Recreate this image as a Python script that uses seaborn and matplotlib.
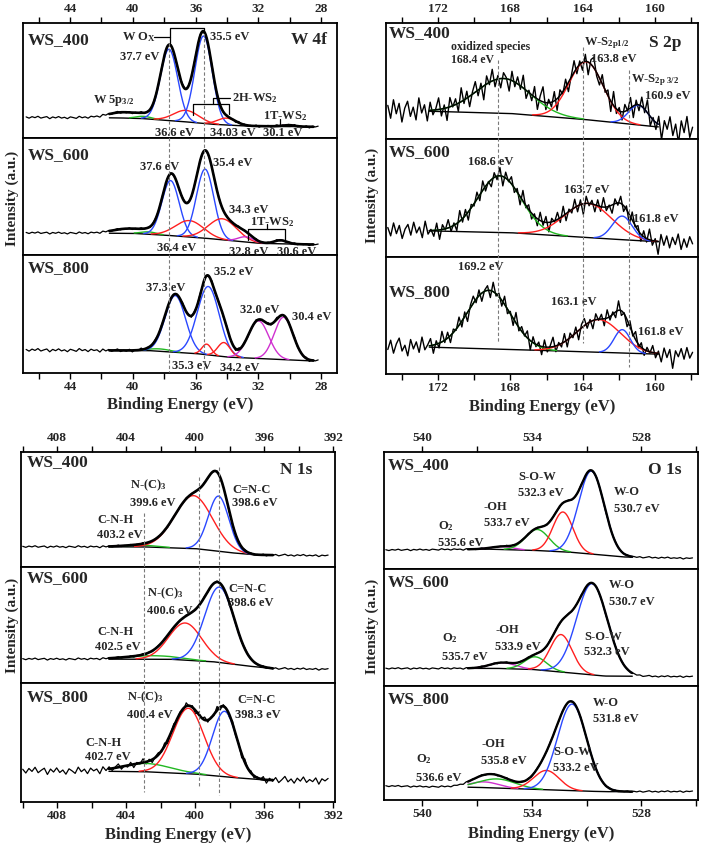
import numpy as np
import pandas as pd
import matplotlib
matplotlib.use("Agg")
import matplotlib.pyplot as plt
import matplotlib.transforms as mtrans
from matplotlib.lines import Line2D
import seaborn as sns

# ---------------------------------------------------------------- data
SAMPLES = ["WS_400", "WS_600", "WS_800"]

# ---- W 4f  (intensity in % of sub-panel height)
W4F_CENTERS = [[40.6, 39.3, 37.7, 36.6, 35.5, 34.03, 30.1],
               [40.3, 39.0, 37.6, 36.4, 35.4, 34.3, 32.8, 30.6],
               [38.3, 37.3, 35.3, 35.2, 34.2, 32.0, 30.4]]
W4F_AMPS = [[5, 2, 62, 10, 76, 6, 1.2],
            [4, 2, 47, 14, 59, 18, 4.5, 3],
            [2, 48, 9, 58, 12, 32, 36]]
W4F_SIGMAS = [[1.0, 0.5, 0.55, 0.8, 0.55, 0.6, 0.4],
              [1.0, 0.5, 0.55, 0.9, 0.55, 0.9, 0.5, 0.4],
              [0.7, 0.65, 0.3, 0.7, 0.4, 0.65, 0.6]]
W4F_COLORS = [["none", "green", "blue", "red", "blue", "red", "magenta"],
              ["none", "green", "blue", "red", "blue", "red", "magenta", "magenta"],
              ["green", "blue", "red", "blue", "red", "magenta", "magenta"]]
W4F_BASE_X = [[47, 41, 39.5, 37, 35, 33, 27], [47, 40, 38, 35.5, 32, 27], [47, 39, 36, 34, 29, 27]]
W4F_BASE_Y = [[18, 17.5, 17, 14.5, 12, 10.5, 9.5], [19, 18.5, 17, 14.5, 10, 8.5], [19.5, 19, 16.5, 13.5, 10.4, 10]]
W4F_DASH_X = [37.7, 35.5]

# ---- S 2p
S2P_CENTERS = [[168.4, 163.8, 160.9], [168.6, 163.7, 161.8], [169.2, 163.1, 161.8]]
S2P_AMPS = [[30, 50, 17], [48, 29, 20], [50, 28, 20]]
S2P_SIGMAS = [[1.5, 0.95, 0.55], [1.2, 1.3, 0.55], [1.2, 1.2, 0.45]]
S2P_COLORS = [["green", "red", "blue"]] * 3
S2P_BASE_X = [[174.9, 168, 164, 160, 157.6], [174.9, 168, 164, 160, 157.6], [174.9, 168, 164, 160, 157.6]]
S2P_BASE_Y = [[25, 22, 17, 10.6, 9], [23, 20.6, 16.7, 13, 12], [24, 21, 19, 17, 16.5]]
S2P_DASH_X = [168.7, 164.0, 161.4]

# ---- N 1s
N1S_CENTERS = [[403.2, 400.1, 398.65], [402.5, 400.58, 398.6], [402.8, 400.4, 398.3]]
N1S_AMPS = [[1.5, 46, 48], [3, 32, 65], [7, 55, 55]]
N1S_SIGMAS = [[1.0, 1.1, 0.6], [1.5, 0.95, 0.85], [1.4, 0.9, 0.7]]
N1S_COLORS = [["green", "red", "blue"]] * 3
N1S_BASE_X = [[410.1, 403, 400, 398, 396.5, 391.9], [410.1, 401.5, 399, 397, 395.5, 391.9],
              [410.1, 403, 400, 398, 396, 391.9]]
N1S_BASE_Y = [[17.7, 17.5, 16, 12.5, 10.5, 9.8], [20.7, 20.5, 18.4, 14.7, 12.5, 11.8],
              [26.5, 25.5, 23.5, 20.8, 18.5, 18]]
N1S_DASH_X = [402.96, 399.8, 398.6]

# ---- O 1s
O1S_CENTERS = [[535.6, 533.7, 532.3, 530.74], [535.6, 533.8, 532.4, 530.7], [536.6, 535.9, 533.2, 531.8]]
O1S_AMPS = [[2.5, 18, 34, 71], [5, 11, 32, 78], [5, 8, 17, 76]]
O1S_SIGMAS = [[0.6, 0.65, 0.55, 0.7], [0.7, 0.6, 0.6, 0.85], [0.8, 1.0, 0.7, 0.8]]
O1S_COLORS = [["magenta", "green", "red", "blue"]] * 3
O1S_BASE_X = [[542.1, 536.5, 534, 532, 530, 529, 524.9], [542.1, 536, 534, 532, 530, 524.9],
              [542.1, 537, 534, 532, 530, 524.9]]
O1S_BASE_Y = [[16.2, 17, 16, 14.5, 11.7, 10.3, 9], [15, 15.1, 14.2, 11.4, 8.5, 8],
              [12.3, 11.1, 9.4, 8.2, 7.3, 7.5]]

# ---- measurement scatter around the fits (read roughly, % of panel height)
SMALL_NOISE = [0.3, -0.6, 0.5, -0.2, 0.8, -0.5, 0.1, 0.6, -0.9, 0.4, -0.3, 0.7, -0.4, 0.2, -0.8, 0.5, 0.0,
               -0.6, 0.9, -0.2, 0.4, -0.7, 0.6, -0.1, 0.3, -0.9, 0.7, -0.3, 0.5, -0.5, 0.2, 0.8, -0.6, 0.1,
               -0.4, 0.6, -0.8, 0.3, -0.2, 0.9, -0.5, 0.4, -0.7, 0.2, 0.5, -0.3, 0.7, -0.9, 0.1, 0.6, -0.4,
               0.3, -0.6, 0.8, -0.2, 0.4, -0.8, 0.5, -0.1, 0.7, -0.5, 0.2, -0.3, 0.9, -0.7, 0.4, 0.1, -0.6,
               0.6, -0.4, 0.3, -0.9, 0.8, -0.2, 0.5, -0.5, 0.2, -0.1, 0.7, -0.8, 0.4, -0.3, 0.6, -0.6, 0.1,
               0.9, -0.4, 0.3, -0.7, 0.5, -0.2, 0.8, -0.5, 0.2, -0.3, 0.6, -0.9, 0.4, -0.1, 0.5]
W4F_NOISE_SCALE = [1.2, 1.0, 1.6]
N1S_NOISE_SCALE = [1.0, 1.0, 3.5]
O1S_NOISE_SCALE = [0.8, 0.8, 0.8]

S2P_NOISE_400 = [4, -7, 9, -3, 6, -10, 2, 8, -5, 3, -8, 11, -2, 5, -9, 7, -4, 1, 10, -6, 3, -11, 8, -1, 5, -7,
                 12, -3, 6, -9, 2, 9, -5, 4, -12, 7, -2, 10, -6, 3, -8, 5, 1, -10, 8, -4, 6, -3, 11, -7, 2, -5,
                 9, -9, 4, 13, -6, 3, -4, 8, -10, 5, -2, 7, -8, 1, 10, -5, 3, -7, 6, -11, 4, 9, -3, -6, 8, -2,
                 5, -9, 12, -4, 3, -7, 6, -1, 9, -10, 4, -5, 8, -3, 11, -8, 2, -6, 7, -12, 5, -2, 9, -7, 3,
                 -13, 6, -4, 10, -8, 1]
S2P_NOISE_600 = [2, -5, 6, -3, 4, -7, 1, 5, -4, 7, -2, 3, -6, 8, -3, 1, -5, 6, -8, 4, -1, 7, -4, 2, -6, 9, -3,
                 5, -7, 3, -2, 6, -5, 8, -4, 1, -6, 4, -3, 7, -8, 5, -1, 6, -4, 3, -7, 9, -2, 4, -5, 2, -6, 7,
                 -3, 5, -8, 3, -1, 6, -4, 8, -6, 2, -3, 7, -5, 4, -9, 6, -2, 3, -6, 5, -4, 8, -3, 1, -7, 4, -2,
                 6, -5, 3, -8, 7, -1, 4, -6, 5, -3, 9, -4, 2, -11, 6, -3, 5, -5, 4, -2, 7, -6, 3, -4, 5, -1]
S2P_NOISE_800 = [-3, 5, -6, 2, 7, -4, 1, -8, 6, -2, 4, -5, 8, -3, 1, 6, -7, 3, -4, 9, -2, 5, -6, 3, -1, 7, -5,
                 4, -8, 2, 6, -3, 5, -7, 1, 4, -6, 8, -2, 3, -5, 7, -4, 2, -6, 9, -3, 4, -1, 6, -8, 5, -2, 3,
                 -7, 6, -4, 1, 8, -5, 2, -3, 7, -6, 4, -2, 5, -8, 3, 6, -4, 2, -7, 5, -1, 4, -6, 7, -3, 2, -5,
                 8, -4, 1, -6, 5, -2, 7, -3, 4, -5, 3, -1, 6, -4, 2, -7, 5, -3, 4, -12, 3, -2, 5, -4, 6, -3, 2]

# ---------------------------------------------------------------- style
W, H = 702, 847
sns.set_theme(style="white")
plt.rcParams['font.family'] = ['Liberation Serif', 'DejaVu Serif']
plt.rcParams['font.weight'] = 'bold'
plt.rcParams['mathtext.fontset'] = 'custom'
plt.rcParams['mathtext.rm'] = 'Liberation Serif:bold'
plt.rcParams['mathtext.bf'] = 'Liberation Serif:bold'
plt.rcParams['mathtext.it'] = 'Liberation Serif:bold'
plt.rcParams['mathtext.default'] = 'rm'

CMAP = {"blue": "#2a48ff", "red": "#ff1f1f", "green": "#22b822", "magenta": "#d030d0"}

LAYOUT = {
    "W4F": dict(l=23, r=337, t=23, d=[138, 255], b=373, xlim=(47, 27), majors=[44, 40, 36, 32, 28],
                minors=[46, 42, 38, 34, 30], fit=(41.5, 28.5), data=(46.8, 28.2), env_lw=1.9, data_lw=0.9),
    "S2P": dict(l=386, r=698, t=23, d=[139, 257], b=374, xlim=(174.9, 157.6), majors=[172, 168, 164, 160],
                minors=[174, 170, 166, 162, 158], fit=(172.5, 159.8), data=(174.8, 157.9), env_lw=1.1, data_lw=1.0),
    "N1S": dict(l=21, r=335, t=452, d=[567, 683], b=802, xlim=(410.1, 391.9), majors=[408, 404, 400, 396, 392],
                minors=[410, 406, 402, 398, 394], fit=(405.0, 395.5), data=(410.0, 392.3), env_lw=1.9, data_lw=0.9),
    "O1S": dict(l=384, r=698, t=452, d=[569, 686], b=800, xlim=(542.1, 524.9), majors=[540, 534, 528],
                minors=[537, 531, 525], fit=(537.5, 528.5), data=(542.0, 525.2), env_lw=1.7, data_lw=0.9),
}

fig = plt.figure(figsize=(W / 100, H / 100), dpi=100)


def fx(x):
    return x / W


def fy(y):
    return 1 - y / H


def gauss(x, c, a, s):
    return a * np.exp(-0.5 * ((x - c) / s) ** 2)


def draw_column(key, centers, amps, sigmas, colors, bxs, bys, noises, scales):
    L = LAYOUT[key]
    edges = [L['t']] + L['d'] + [L['b']]
    axes = []
    for i in range(3):
        ax = fig.add_axes([fx(L['l']), fy(edges[i + 1]), (L['r'] - L['l']) / W, (edges[i + 1] - edges[i]) / H])
        bx = np.array(bxs[i])[::-1]
        by = np.array(bys[i])[::-1]
        # measured data
        xd = np.linspace(L['data'][0], L['data'][1], len(noises[i]))
        yd = np.interp(xd, bx, by) + np.array(noises[i]) * scales[i]
        for c, a, s in zip(centers[i], amps[i], sigmas[i]):
            yd = yd + gauss(xd, c, a, s)
        sns.lineplot(x=xd, y=yd, ax=ax, color='black', linewidth=L['data_lw'], estimator=None, sort=False, zorder=2)
        # fit
        xf = np.linspace(L['fit'][0], L['fit'][1], 600)
        base = np.interp(xf, bx, by)
        env = base.copy()
        sns.lineplot(x=xf, y=base, ax=ax, color='black', linewidth=1.0, estimator=None, sort=False, zorder=3)
        for c, a, s, col in zip(centers[i], amps[i], sigmas[i], colors[i]):
            g = gauss(xf, c, a, s)
            env = env + g
            if col == "none":
                continue
            m = g > 0.35
            sns.lineplot(x=xf[m], y=(base + g)[m], ax=ax, color=CMAP[col], linewidth=1.0,
                         estimator=None, sort=False, zorder=4)
        sns.lineplot(x=xf, y=env, ax=ax, color='black', linewidth=L['env_lw'], estimator=None, sort=False, zorder=5)

        ax.set_xlim(*L['xlim'])
        ax.set_ylim(0, 100)
        ax.set_yticks([])
        ax.set_xticks(L['majors'])
        ax.set_xticks(L['minors'], minor=True)
        ax.set_xlabel('')
        ax.set_ylabel('')
        for sp in ax.spines.values():
            sp.set_linewidth(1.3)
            sp.set_color('black')
        ax.tick_params(axis='x', which='both', direction='out', length=4, width=1.0, color='black',
                       labelsize=9.5, pad=1.5, top=False, bottom=False, labeltop=False, labelbottom=False)
        if i == 0:
            ax.tick_params(axis='x', which='both', top=True, labeltop=True)
        if i == 2:
            ax.tick_params(axis='x', which='both', bottom=True, labelbottom=True)
        for lab in ax.get_xticklabels():
            lab.set_fontweight('bold')
        axes.append(ax)
    return axes


w4f_axes = draw_column("W4F", W4F_CENTERS, W4F_AMPS, W4F_SIGMAS, W4F_COLORS, W4F_BASE_X, W4F_BASE_Y,
                       [SMALL_NOISE] * 3, W4F_NOISE_SCALE)
s2p_axes = draw_column("S2P", S2P_CENTERS, S2P_AMPS, S2P_SIGMAS, S2P_COLORS, S2P_BASE_X, S2P_BASE_Y,
                       [S2P_NOISE_400, S2P_NOISE_600, S2P_NOISE_800], [1.0, 1.0, 1.0])
n1s_axes = draw_column("N1S", N1S_CENTERS, N1S_AMPS, N1S_SIGMAS, N1S_COLORS, N1S_BASE_X, N1S_BASE_Y,
                       [SMALL_NOISE] * 3, N1S_NOISE_SCALE)
o1s_axes = draw_column("O1S", O1S_CENTERS, O1S_AMPS, O1S_SIGMAS, O1S_COLORS, O1S_BASE_X, O1S_BASE_Y,
                       [SMALL_NOISE] * 3, O1S_NOISE_SCALE)


# dashed guide lines across the sub-panels
def dashes(ax, xs, spans):
    tr = mtrans.blended_transform_factory(ax.transData, fig.transFigure)
    for x, (y0, y1) in zip(xs, spans):
        fig.add_artist(Line2D([x, x], [fy(y0), fy(y1)], transform=tr, linestyle=(0, (3, 2)),
                              color='#7a7a7a', linewidth=0.8, zorder=10))


dashes(w4f_axes[0], W4F_DASH_X, [(43, 372), (33, 372)])
dashes(s2p_axes[0], S2P_DASH_X, [(60, 343), (47, 343), (70, 367)])
dashes(n1s_axes[0], N1S_DASH_X, [(513, 792), (477, 788), (467, 795)])


def txt(x, y, s, fs=9, **kw):
    fig.text(fx(x), fy(y), s, fontsize=fs, fontweight='bold', ha='left', va='center', **kw)


def seg(xs, ys, lw=0.9):
    fig.add_artist(Line2D([fx(v) for v in xs], [fy(v) for v in ys], transform=fig.transFigure,
                          color='black', linewidth=lw, zorder=11))


BIG = 12.5
# sample labels
for (l, tops) in [(28, [40, 155, 268]), (389, [33, 152, 292]), (27, [462, 578, 697]), (388, [465, 582, 699])]:
    for name, y in zip(SAMPLES, tops):
        txt(l, y, name, BIG)

# W 4f labels
txt(291, 40, "W 4f", 12.5)
txt(122, 37, "W O$_X$")
txt(120, 57, "37.7 eV")
txt(210, 37, "35.5 eV")
txt(93, 100, "W 5p$_{3/2}$")
txt(232, 98, "2H-WS$_2$")
txt(263, 116, "1T-WS$_2$")
txt(155, 133, "36.6 eV")
txt(210, 133, "34.03 eV")
txt(263, 133, "30.1 eV")
txt(140, 167, "37.6 eV")
txt(213, 163, "35.4 eV")
txt(229, 210, "34.3 eV")
txt(250, 222, "1T-WS$_2$")
txt(157, 248, "36.4 eV")
txt(229, 252, "32.8 eV")
txt(277, 252, "30.6 eV")
txt(146, 288, "37.3 eV")
txt(214, 272, "35.2 eV")
txt(240, 310, "32.0 eV")
txt(292, 317, "30.4 eV")
txt(172, 366, "35.3 eV")
txt(220, 368, "34.2 eV")
# brackets W 4f
seg([154, 170], [37, 37])
seg([170, 170, 204, 204], [43, 28, 28, 33])
seg([193, 193, 229, 229], [115, 104, 104, 114])
seg([213, 213, 230], [104, 98, 98])
seg([270, 290], [126, 126])
seg([280, 280], [119, 126])
seg([248, 248, 285, 285], [240, 229, 229, 240])
seg([267, 267], [224, 229])

# S 2p labels
txt(649, 43, "S 2p", 12.5)
txt(451, 47, "oxidized species", 8.5)
txt(451, 60, "168.4 eV", 8.5)
txt(584, 43, "W-S$_{2p1/2}$")
txt(591, 59, "163.8 eV")
txt(631, 80, "W-S$_{2p\\ 3/2}$")
txt(645, 96, "160.9 eV")
txt(468, 162, "168.6 eV")
txt(564, 190, "163.7 eV")
txt(633, 219, "161.8 eV")
txt(458, 267, "169.2 eV")
txt(551, 302, "163.1 eV")
txt(638, 332, "161.8 eV")

# N 1s labels
txt(280, 470, "N 1s", 12.5)
for (x, y, s) in [(130, 485, "N-(C)$_3$"), (130, 503, "399.6 eV"), (232, 490, "C=N-C"), (232, 503, "398.6 eV"),
                  (97, 520, "C-N-H"), (97, 535, "403.2 eV"),
                  (147, 593, "N-(C)$_3$"), (147, 611, "400.6 eV"), (228, 589, "C=N-C"), (228, 603, "398.6 eV"),
                  (97, 632, "C-N-H"), (95, 647, "402.5 eV"),
                  (127, 697, "N-(C)$_3$"), (127, 715, "400.4 eV"), (237, 700, "C=N-C"), (235, 715, "398.3 eV"),
                  (85, 743, "C-N-H"), (85, 757, "402.7 eV")]:
    txt(x, y, s)

# O 1s labels
txt(648, 470, "O 1s", 12.5)
for (x, y, s) in [(518, 477, "S-O-W"), (518, 493, "532.3 eV"), (484, 507, "-OH"), (484, 523, "533.7 eV"),
                  (438, 526, "O$_2$"), (438, 543, "535.6 eV"), (614, 492, "W-O"), (614, 509, "530.7 eV"),
                  (609, 585, "W-O"), (609, 602, "530.7 eV"), (584, 637, "S-O-W"), (584, 652, "532.3 eV"),
                  (495, 630, "-OH"), (495, 647, "533.9 eV"), (442, 638, "O$_2$"), (442, 657, "535.7 eV"),
                  (593, 703, "W-O"), (593, 719, "531.8 eV"), (553, 752, "S-O-W"), (553, 768, "533.2 eV"),
                  (481, 744, "-OH"), (481, 761, "535.8 eV"), (416, 759, "O$_2$"), (416, 778, "536.6 eV")]:
    txt(x, y, s)

# axis titles
for (cx, y) in [(180, 405), (542, 407), (178, 835), (541, 834)]:
    fig.text(fx(cx), fy(y), "Binding Energy (eV)", fontsize=12, fontweight='bold', ha='center', va='center')
for (x, cy) in [(12, 198), (372, 195), (12, 625), (372, 626)]:
    fig.text(fx(x), fy(cy), "Intensity (a.u.)", fontsize=11, fontweight='bold', ha='center', va='center',
             rotation=90)

fig.savefig("out.png", dpi=100, facecolor='white')
